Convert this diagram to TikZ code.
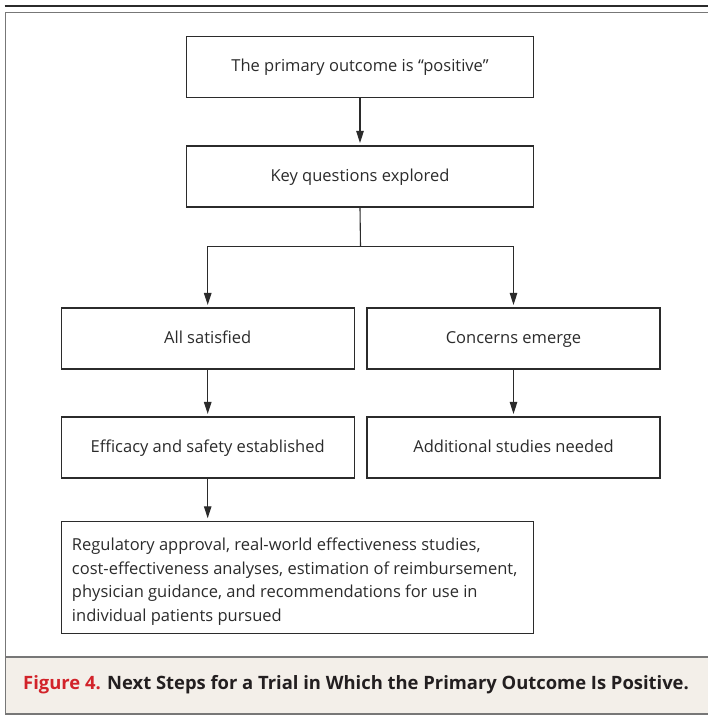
\documentclass[tikz,border=0pt]{standalone}
\usepackage{fontspec}
\setmainfont{Open Sans}
\usetikzlibrary{arrows.meta}
\definecolor{ink}{HTML}{2B2B2B}
\definecolor{framegray}{HTML}{777777}
\definecolor{capbg}{HTML}{F3EFE9}
\definecolor{nejmred}{HTML}{D2232A}
\definecolor{captext}{HTML}{231F20}
\begin{document}
\begin{tikzpicture}[x=1pt,y=-1pt,
  box/.style={draw=ink,line width=1.1pt,inner sep=0pt,font=\fontsize{16.5}{20}\selectfont,text=ink},
  wide/.style={box,minimum width=347pt,minimum height=61pt,text height=9pt,text depth=0pt},
  half/.style={box,minimum width=293pt,minimum height=61pt,text height=9pt,text depth=0pt},
  arr/.style={draw=ink,line width=1.1pt,-{Triangle[length=12pt,width=7.5pt]},shorten >=2.5pt},
  conn/.style={draw=ink,line width=1.1pt}]
\useasboundingbox (0,0) rectangle (708,715);
% frame
\fill[capbg] (5.5,657) rectangle (708,714);
\draw[ink,line width=1.3pt] (4.5,6) -- (708,6);
\draw[framegray,line width=1.6pt] (708,12.5) -- (5.5,12.5) -- (5.5,714) -- (708,714);
\draw[framegray,line width=1.6pt] (5.5,657) -- (708,657);
% nodes
\node[wide] (pos) at (360,67) {The primary outcome is “positive”};
\node[wide] (key) at (360,176.5) {Key questions explored};
\node[half] (sat) at (207.7,338.5) {All satisfied};
\node[half] (con) at (513.5,338.5) {Concerns emerge};
\node[half] (eff) at (207.7,447.5) {Efficacy and safety established};
\node[half] (add) at (513.5,447.5) {Additional studies needed};
\node[box,minimum width=472pt,minimum height=112pt] (reg) at (297.3,577.3) {};
\node[anchor=west,align=left,inner sep=0pt,text=ink,font=\fontsize{16.5}{23.5}\selectfont] (regtext)
  at ([xshift=11pt,yshift=-4.5pt]reg.west)
  {Regulatory approval, real-world effectiveness studies,\\
   cost-effectiveness analyses, estimation of reimbursement,\\
   physician guidance, and recommendations for use in\\
   individual patients pursued};
\coordinate (split) at (360.5,246.7);
% connectors
\draw[arr] (pos) -- (key);
\draw[conn] (key.south) -- (split);
\draw[arr] (split) -| (sat.north);
\draw[arr] (split) -| (con.north);
\draw[arr] (sat) -- (eff);
\draw[arr] (con) -- (add);
\draw[arr] (eff.south) -- (eff.south |- reg.north);
% caption
\node[anchor=base west,inner sep=0pt,font=\bfseries\fontsize{18.4}{21}\selectfont,text=captext] (cap) at (23,689.5)
  {\textcolor{nejmred}{Figure 4.} Next Steps for a Trial in Which the Primary Outcome Is Positive.};
\end{tikzpicture}
\end{document}
